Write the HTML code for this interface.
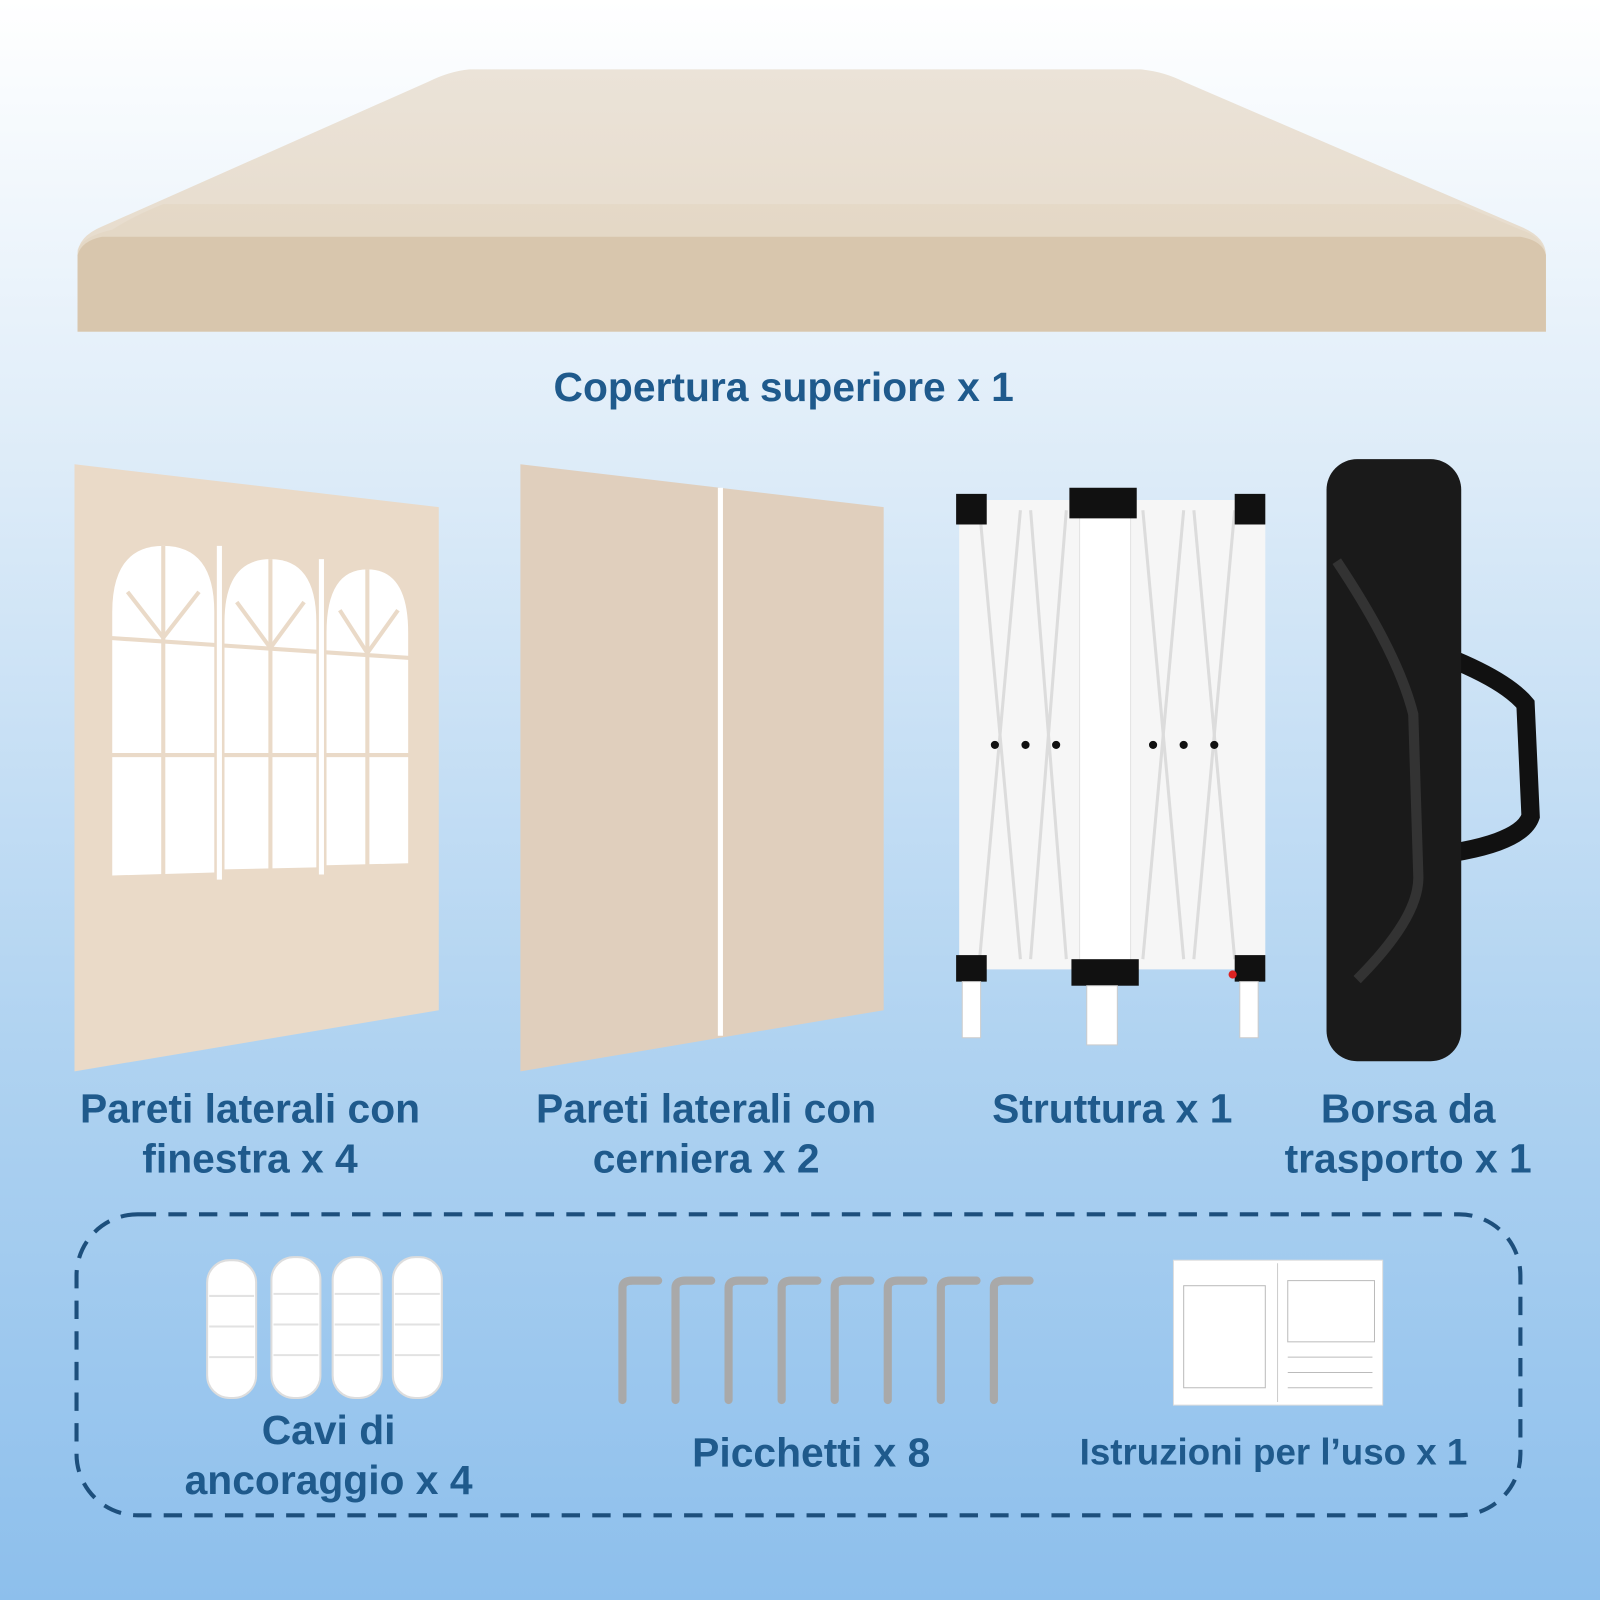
<!DOCTYPE html>
<html><head><meta charset="utf-8"><style>
html,body{margin:0;padding:0;width:1600px;height:1600px;overflow:hidden}
svg{display:block}
text{font-family:"Liberation Sans",sans-serif;font-weight:bold;fill:#1f5a8c}
</style></head><body>
<svg width="1600" height="1600" viewBox="0 0 1568 1568" xmlns="http://www.w3.org/2000/svg">
<defs>
<linearGradient id="bg" x1="0" y1="0" x2="0" y2="1">
<stop offset="0" stop-color="#ffffff"/><stop offset="0.3" stop-color="#dcebf8"/><stop offset="0.65" stop-color="#b0d3f1"/><stop offset="1" stop-color="#8dbfec"/></linearGradient>
<linearGradient id="top" x1="0" y1="0" x2="0" y2="1"><stop offset="0" stop-color="#ebe3d8"/><stop offset="1" stop-color="#e5d9c8"/></linearGradient>
</defs>
<rect width="1568" height="1568" fill="url(#bg)"/>
<!-- canopy -->
<path d="M460,68 L1118,68 Q1140,70 1160,80 L1490,222 Q1515,232 1515,250 L1515,325 L76,325 L76,250 Q76,232 100,222 L420,80 Q440,70 460,68 Z" fill="url(#top)"/>
<path d="M76,245 Q80,232 110,225 Q130,212 160,200 L1430,200 Q1460,212 1490,225 Q1512,232 1515,250 L1515,325 L76,325 Z" fill="#e3d5c2" opacity="0.6"/>
<path d="M76,250 Q80,236 100,232 L1490,232 Q1512,236 1515,250 L1515,325 L76,325 Z" fill="#d8c6ad"/>
<text x="768" y="393" font-size="40" text-anchor="middle">Copertura superiore x 1</text>
<!-- window wall -->
<polygon points="73,455 430,497 430,990 73,1050" fill="#eadac8"/>
<g fill="#fff">
<path d="M110,858 L110,600 Q110,535 160,535 Q210,535 210,600 L210,855 Z"/>
<path d="M220,852 L220,610 Q220,548 265,548 Q310,548 310,610 L310,850 Z"/>
<path d="M320,848 L320,620 Q320,558 360,558 Q400,558 400,620 L400,846 Z"/>
</g>
<g stroke="#eadac8" stroke-width="4">
<line x1="160" y1="535" x2="160" y2="860"/><line x1="265" y1="548" x2="265" y2="855"/><line x1="360" y1="558" x2="360" y2="850"/>
<line x1="105" y1="625" x2="405" y2="645"/><line x1="105" y1="740" x2="405" y2="740"/>
<line x1="125" y1="580" x2="160" y2="625"/><line x1="195" y1="580" x2="160" y2="625"/>
<line x1="232" y1="590" x2="265" y2="635"/><line x1="298" y1="590" x2="265" y2="635"/>
<line x1="333" y1="598" x2="360" y2="640"/><line x1="390" y1="598" x2="360" y2="640"/>
</g>
<line x1="215" y1="535" x2="215" y2="862" stroke="#fff" stroke-width="5"/>
<line x1="315" y1="548" x2="315" y2="857" stroke="#fff" stroke-width="5"/>
<!-- hinge wall -->
<polygon points="510,455 866,497 866,990 510,1050" fill="#e0cfbd"/>
<line x1="706" y1="478" x2="706" y2="1015" stroke="#fff" stroke-width="5"/>
<!-- frame -->
<g>
<rect x="940" y="490" width="300" height="460" fill="#f6f6f6"/>
<g stroke="#dcdcdc" stroke-width="3">
<line x1="960" y1="500" x2="1000" y2="940"/><line x1="1000" y1="500" x2="960" y2="940"/>
<line x1="1010" y1="500" x2="1045" y2="940"/><line x1="1045" y1="500" x2="1010" y2="940"/>
<line x1="1120" y1="500" x2="1160" y2="940"/><line x1="1160" y1="500" x2="1120" y2="940"/>
<line x1="1170" y1="500" x2="1210" y2="940"/><line x1="1210" y1="500" x2="1170" y2="940"/>
</g>
<rect x="1058" y="490" width="50" height="460" fill="#fff" stroke="#e2e2e2"/>
<g fill="#111">
<rect x="937" y="484" width="30" height="30"/><rect x="1048" y="478" width="66" height="30"/><rect x="1210" y="484" width="30" height="30"/>
<rect x="937" y="936" width="30" height="26"/><rect x="1050" y="940" width="66" height="26"/><rect x="1210" y="936" width="30" height="26"/>
<circle cx="975" cy="730" r="4"/><circle cx="1005" cy="730" r="4"/><circle cx="1035" cy="730" r="4"/><circle cx="1130" cy="730" r="4"/><circle cx="1160" cy="730" r="4"/><circle cx="1190" cy="730" r="4"/>
</g>
<rect x="943" y="962" width="18" height="55" fill="#fff" stroke="#ccc"/>
<rect x="1065" y="966" width="30" height="58" fill="#fff" stroke="#ccc"/>
<rect x="1215" y="962" width="18" height="55" fill="#fff" stroke="#ccc"/>
<circle cx="1208" cy="955" r="4" fill="#d22"/>
</g>
<!-- bag -->
<path d="M1380,630 Q1470,660 1495,690 L1500,800 Q1490,830 1390,840" fill="none" stroke="#111" stroke-width="18"/>
<rect x="1300" y="450" width="132" height="590" rx="30" fill="#1a1a1a"/>
<path d="M1310,550 Q1370,640 1385,700 L1390,860 Q1390,900 1330,960" fill="none" stroke="#333" stroke-width="10"/>
<!-- labels -->
<g font-size="40" text-anchor="middle">
<text x="245" y="1100">Pareti laterali con</text><text x="245" y="1149">finestra x 4</text>
<text x="692" y="1100">Pareti laterali con</text><text x="692" y="1149">cerniera x 2</text>
<text x="1090" y="1100">Struttura x 1</text>
<text x="1380" y="1100">Borsa da</text><text x="1380" y="1149">trasporto x 1</text>
</g>
<rect x="75" y="1190" width="1415" height="295" rx="60" fill="none" stroke="#1d4f7c" stroke-width="4" stroke-dasharray="18,12"/>
<!-- ropes -->
<g fill="#fff" stroke="#ddd" stroke-width="2">
<rect x="203" y="1235" width="48" height="135" rx="22"/><rect x="266" y="1232" width="48" height="138" rx="22"/><rect x="326" y="1232" width="48" height="138" rx="22"/><rect x="385" y="1232" width="48" height="138" rx="22"/>
</g>
<g stroke="#e2e2e2" stroke-width="2" fill="none">
<path d="M205,1270 h44 M205,1300 h44 M205,1330 h44 M268,1268 h44 M268,1298 h44 M268,1328 h44 M328,1268 h44 M328,1298 h44 M328,1328 h44 M387,1268 h44 M387,1298 h44 M387,1328 h44"/>
</g>
<!-- stakes -->
<g fill="none" stroke="#a9a9a9" stroke-width="8" stroke-linecap="round">
<path d="M610,1372 L610,1262 Q610,1255 620,1255 L645,1255"/><path d="M662,1372 L662,1262 Q662,1255 672,1255 L697,1255"/><path d="M714,1372 L714,1262 Q714,1255 724,1255 L749,1255"/><path d="M766,1372 L766,1262 Q766,1255 776,1255 L801,1255"/><path d="M818,1372 L818,1262 Q818,1255 828,1255 L853,1255"/><path d="M870,1372 L870,1262 Q870,1255 880,1255 L905,1255"/><path d="M922,1372 L922,1262 Q922,1255 932,1255 L957,1255"/><path d="M974,1372 L974,1262 Q974,1255 984,1255 L1009,1255"/>
</g>
<!-- manual -->
<rect x="1150" y="1235" width="205" height="142" fill="#fff" stroke="#ddd"/>
<line x1="1252" y1="1238" x2="1252" y2="1374" stroke="#ccc"/>
<g stroke="#bbb" stroke-width="1" fill="none">
<rect x="1160" y="1260" width="80" height="100"/><rect x="1262" y="1255" width="85" height="60"/>
<line x1="1262" y1="1330" x2="1345" y2="1330"/><line x1="1262" y1="1345" x2="1345" y2="1345"/><line x1="1262" y1="1360" x2="1345" y2="1360"/>
</g>
<g font-size="40" text-anchor="middle">
<text x="322" y="1415">Cavi di</text><text x="322" y="1464">ancoraggio x 4</text>
<text x="795" y="1437">Picchetti x 8</text>
</g>
<text x="1248" y="1435" font-size="36" text-anchor="middle">Istruzioni per l’uso x 1</text>
</svg>
</body></html>
